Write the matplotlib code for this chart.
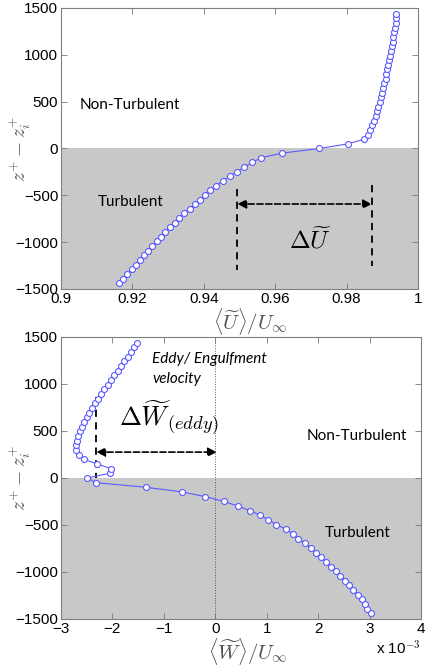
import numpy as np
import matplotlib

matplotlib.use('Agg')
import matplotlib.pyplot as plt

plt.rcParams['font.family'] = ['Liberation Sans', 'DejaVu Sans']
plt.rcParams['mathtext.fontset'] = 'cm'

# wall-normal coordinate relative to the interface (same grid for both panels)
z_plus = [-1438, -1389, -1339, -1290, -1240, -1190, -1141, -1091, -1042, -992,
          -942, -893, -843, -794, -744, -694, -645, -595, -546, -496,
          -446, -397, -347, -298, -248, -198, -149, -99, -50, 0,
          50, 99, 149, 198, 248, 298, 347, 397, 446, 496,
          546, 595, 645, 694, 744, 794, 843, 893, 942, 992,
          1042, 1091, 1141, 1190, 1240, 1290, 1339, 1389, 1438]

# <U>/U_inf
u_mean = [0.9163, 0.9175, 0.9186, 0.9198, 0.9209, 0.9221, 0.9233, 0.9245, 0.9256, 0.9268,
          0.9280, 0.9292, 0.9305, 0.9318, 0.9331, 0.9345, 0.9360, 0.9374, 0.9388, 0.9402,
          0.9417, 0.9434, 0.9453, 0.9472, 0.9492, 0.9514, 0.9536, 0.9561, 0.9619, 0.9724,
          0.9805, 0.9849, 0.9860, 0.9866, 0.9871, 0.9877, 0.9881, 0.9885, 0.9889, 0.9893,
          0.9896, 0.9900, 0.9903, 0.9906, 0.9909, 0.9911, 0.9914, 0.9917, 0.9920, 0.9922,
          0.9924, 0.9926, 0.9929, 0.9931, 0.9933, 0.9935, 0.9937, 0.9938, 0.9939]

# <W>/U_inf, in units of 1e-3
w_mean = [3.031, 2.947, 2.908, 2.850, 2.772, 2.682, 2.604, 2.520, 2.430, 2.339,
          2.249, 2.145, 2.061, 1.964, 1.855, 1.745, 1.615, 1.512, 1.376, 1.189,
          1.034, 0.872, 0.672, 0.432, 0.161, -0.201, -0.641, -1.352, -2.321, -2.489,
          -2.050, -2.024, -2.295, -2.554, -2.657, -2.703, -2.709, -2.696, -2.670, -2.638,
          -2.599, -2.554, -2.502, -2.451, -2.392, -2.334, -2.276, -2.218, -2.160, -2.095,
          -2.030, -1.966, -1.901, -1.836, -1.772, -1.707, -1.643, -1.578, -1.513]

u_ticks = [0.9, 0.92, 0.94, 0.96, 0.98, 1.0]
u_ticklabels = ['0.9', '0.92', '0.94', '0.96', '0.98', '1']
w_ticks = [-3, -2, -1, 0, 1, 2, 3, 4]
z_ticks = [-1500, -1000, -500, 0, 500, 1000, 1500]

LINE_BLUE = '#5a5aff'
SHADE = '#c8c8c8'
LABEL_GREY = '#555555'
TEXT_FONT = ['Lato', 'DejaVu Sans']


def style_axes(ax, width_px):
    ax.axhspan(-1500, 0, color=SHADE, zorder=0, lw=0)
    ax.set_ylim(-1500, 1500)
    ax.set_yticks(z_ticks)
    ax.tick_params(direction='in', top=True, right=True, length=4, width=0.6,
                   labelsize=11, color='#777777', pad=2)
    for s in ax.spines.values():
        s.set_color('#808080')
        s.set_linewidth(0.8)
    ax.set_ylabel(r'$z^{+} - z_{i}^{+}$', fontsize=14, color=LABEL_GREY)
    # label sits just left of the short tick labels, as in the original figure
    ax.yaxis.set_label_coords(-28.0 / width_px, 0.5)


def plot_profile(ax, x, z):
    ax.plot(x, z, '-o', color=LINE_BLUE, lw=0.8, ms=4.3, mfc='white',
            mec=LINE_BLUE, mew=0.8, zorder=3)


def double_arrow(ax, x0, x1, y):
    ax.annotate('', xy=(x1, y), xytext=(x0, y),
                arrowprops=dict(arrowstyle='<|-|>', linestyle='--', color='k',
                                lw=1.2, mutation_scale=13, shrinkA=0, shrinkB=0),
                zorder=4)


fig = plt.figure(figsize=(4.26, 6.68), dpi=100)

# top panel: streamwise velocity
ax1 = fig.add_axes([0.1432, 0.5674, 0.8380, 0.4207])
style_axes(ax1, 357)
plot_profile(ax1, u_mean, z_plus)
ax1.set_xlim(0.9, 1.0)
ax1.set_xticks(u_ticks)
ax1.set_xticklabels(u_ticklabels)
ax1.set_xlabel(r'$\langle\widetilde{U}\rangle/U_{\infty}$', fontsize=15,
               color=LABEL_GREY)
ax1.xaxis.set_label_coords(0.53, -0.06)
ax1.plot([0.9494, 0.9494], [-432, -1297], '--', color='k', lw=1.3, dashes=(4, 3))
ax1.plot([0.9871, 0.9871], [-390, -1251], '--', color='k', lw=1.3, dashes=(4, 3))
double_arrow(ax1, 0.9494, 0.9871, -593)
ax1.text(0.9640, -984, r'$\Delta\widetilde{U}$', fontsize=18, va='center', ha='left')
ax1.text(0.9053, 464, 'Non-Turbulent', fontsize=11, family=TEXT_FONT, va='center')
ax1.text(0.9102, -568, 'Turbulent', fontsize=11, family=TEXT_FONT, va='center')

# bottom panel: wall-normal velocity
ax2 = fig.add_axes([0.1432, 0.0734, 0.8451, 0.4222])
style_axes(ax2, 360)
ax2.axvline(0, color='#555555', lw=0.7, ls=':', zorder=1)
plot_profile(ax2, w_mean, z_plus)
ax2.set_xlim(-3, 4)
ax2.set_xticks(w_ticks)
ax2.set_xlabel(r'$\langle\widetilde{W}\rangle/U_{\infty}$', fontsize=15,
               color=LABEL_GREY)
ax2.xaxis.set_label_coords(0.52, -0.06)
ax2.text(1.0, -0.105, r'x 10$^{-3}$', transform=ax2.transAxes, fontsize=11,
         ha='right', va='center')
ax2.plot([-2.315, -2.315], [861, -5], '--', color='k', lw=1.3, dashes=(4, 3))
double_arrow(ax2, -2.315, 0.03, 275)
ax2.text(-1.869, 640, r'$\Delta\widetilde{W}_{\mathbf{(}eddy\mathbf{)}}$', fontsize=19,
         va='center', ha='left')
ax2.text(-1.222, 1160, 'Eddy/ Engulfment\nvelocity', fontsize=11, family=TEXT_FONT,
         style='italic', va='center', ha='left', linespacing=1.6)
ax2.text(1.777, 442, 'Non-Turbulent', fontsize=11, family=TEXT_FONT, va='center')
ax2.text(2.12, -587, 'Turbulent', fontsize=11, family=TEXT_FONT, va='center')

fig.savefig('out.png', dpi=100)
plt.close(fig)
